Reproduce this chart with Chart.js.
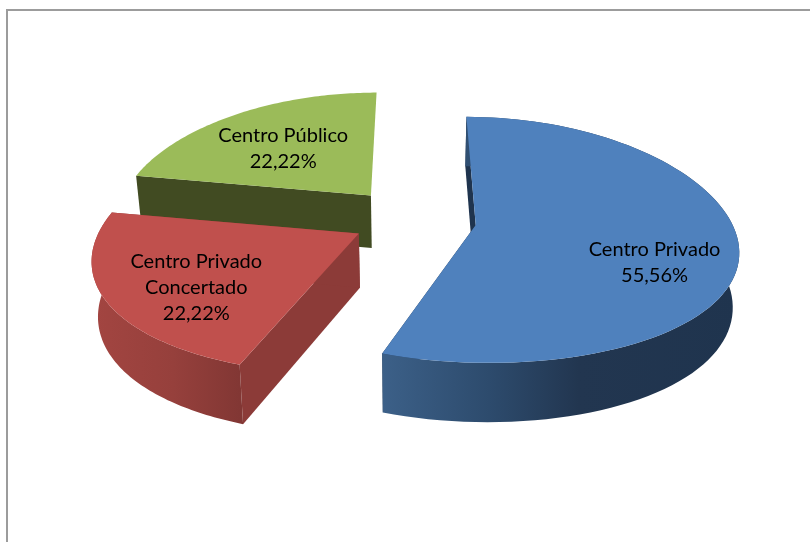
<!DOCTYPE html>
<html>
<head>
<meta charset="utf-8">
<style>html,body{margin:0;padding:0;background:#fff}canvas{display:block;filter:blur(0.4px)}</style>
<script src="https://cdn.jsdelivr.net/npm/chart.js@4"></script>
</head>
<body>
<canvas id="c" width="810" height="542"></canvas>
<script>
const categories = ['Centro Privado', 'Centro Privado Concertado', 'Centro Público'];
const labelLines = [['Centro Privado'], ['Centro Privado', 'Concertado'], ['Centro Público']];
const values = [55.56, 22.22, 22.22];
const topColors = ['#4F81BD', '#C0504D', '#9BBB59'];

const view = {x0: 412, y0: 216, R: 255, A: 120, px: 0.18, py: 0.12, depth: 53.5, taper: 0.02};
const explodeRatio = 0.24;
const nudge = [[3, 4], [1, 3], [-3, 1]];
const labelFrac = [0.66, 0.6, 0.55];
const labelShift = [[7, 23], [-16, 15], [-9, -1]];
const drawOrder = [2, 0, 1];
const wallStops = [
  [[0, '#3c6088'], [0.3, '#2d4b6d'], [0.55, '#223650'], [1, '#1f344e']],
  [[0, '#a34541'], [0.55, '#96403c'], [1, '#823734']],
  [[0, '#414b22'], [1, '#414b22']]
];
const faceColors = ['#1f344e', '#8c3b38', '#414b22'];
const showEndFace = [true, true, false];
const showRimWall = [true, true, false];

function project(X, Y, n) {
  const sx = 1 / (1 - view.px * Y), sy = 1 / (1 - view.py * Y);
  return {x: view.x0 + view.R * X * sx + n[0], y: view.y0 + view.A * Y * sy + n[1], s: sx};
}
function drop(pt) {
  return {x: pt.x + (view.x0 - pt.x) * view.taper, y: pt.y + view.depth * Math.sqrt(pt.s)};
}

const pie3d = {
  id: 'pie3d',
  beforeDraw(chart) {
    const c = chart.ctx;
    c.save();
    c.fillStyle = '#fff';
    c.fillRect(0, 0, chart.width, chart.height);
    c.strokeStyle = '#9c9c9c';
    c.lineWidth = 2;
    c.beginPath();
    c.moveTo(7, chart.height);
    c.lineTo(7, 10);
    c.lineTo(chart.width, 10);
    c.stroke();
    c.restore();
  },
  beforeDatasetsDraw(chart) {
    const arcs = chart.getDatasetMeta(0).data;
    const c = chart.ctx;
    const slices = arcs.map((el, i) => {
      const r = el.outerRadius, mid = (el.startAngle + el.endAngle) / 2;
      const off = el.options.offset / r;
      const ox = off * Math.cos(mid), oy = off * Math.sin(mid);
      const at = (a, f) => project(ox + f * Math.cos(a), oy + f * Math.sin(a), nudge[i]);
      const rim = [];
      const steps = 90;
      for (let k = 0; k <= steps; k++) rim.push(at(el.startAngle + (el.endAngle - el.startAngle) * k / steps, 1));
      return {i, apex: at(0, 0), rim, label: at(mid, labelFrac[i])};
    });
    const poly = pts => { c.beginPath(); pts.forEach((p, k) => k ? c.lineTo(p.x, p.y) : c.moveTo(p.x, p.y)); c.closePath(); };
    drawOrder.forEach(i => {
      const sl = slices[i];
      const first = sl.rim[0], last = sl.rim[sl.rim.length - 1];
      c.fillStyle = faceColors[i];
      (showEndFace[i] ? [first, last] : [first]).forEach(p => {
        poly([sl.apex, p, drop(p), drop(sl.apex)]);
        c.fill();
      });
      if (showRimWall[i]) {
        const xs = sl.rim.map(p => p.x);
        const g = c.createLinearGradient(Math.min(...xs), 0, Math.max(...xs), 0);
        wallStops[i].forEach(st => g.addColorStop(st[0], st[1]));
        c.fillStyle = g;
        poly(sl.rim.concat(sl.rim.map(drop).reverse()));
        c.fill();
      }
      c.fillStyle = topColors[i];
      poly([sl.apex].concat(sl.rim));
      c.fill();
    });
    c.fillStyle = '#000';
    c.font = '20px Lato';
    c.textAlign = 'center';
    c.textBaseline = 'middle';
    drawOrder.forEach(i => {
      const sl = slices[i];
      const lines = labelLines[i].concat(values[i].toFixed(2).replace('.', ',') + '%');
      lines.forEach((t, k) => c.fillText(t, sl.label.x + labelShift[i][0], sl.label.y + labelShift[i][1] + (k - (lines.length - 1) / 2) * 26));
    });
    return false;
  }
};

new Chart(document.getElementById('c'), {
  type: 'pie',
  data: {
    labels: categories,
    datasets: [{data: values, backgroundColor: topColors, borderWidth: 0,
      offset: ctx => explodeRatio * 242}]
  },
  options: {
    responsive: false,
    animation: false,
    rotation: 0,
    plugins: {legend: {display: false}, tooltip: {enabled: false}}
  },
  plugins: [pie3d]
});
</script>
</body>
</html>
